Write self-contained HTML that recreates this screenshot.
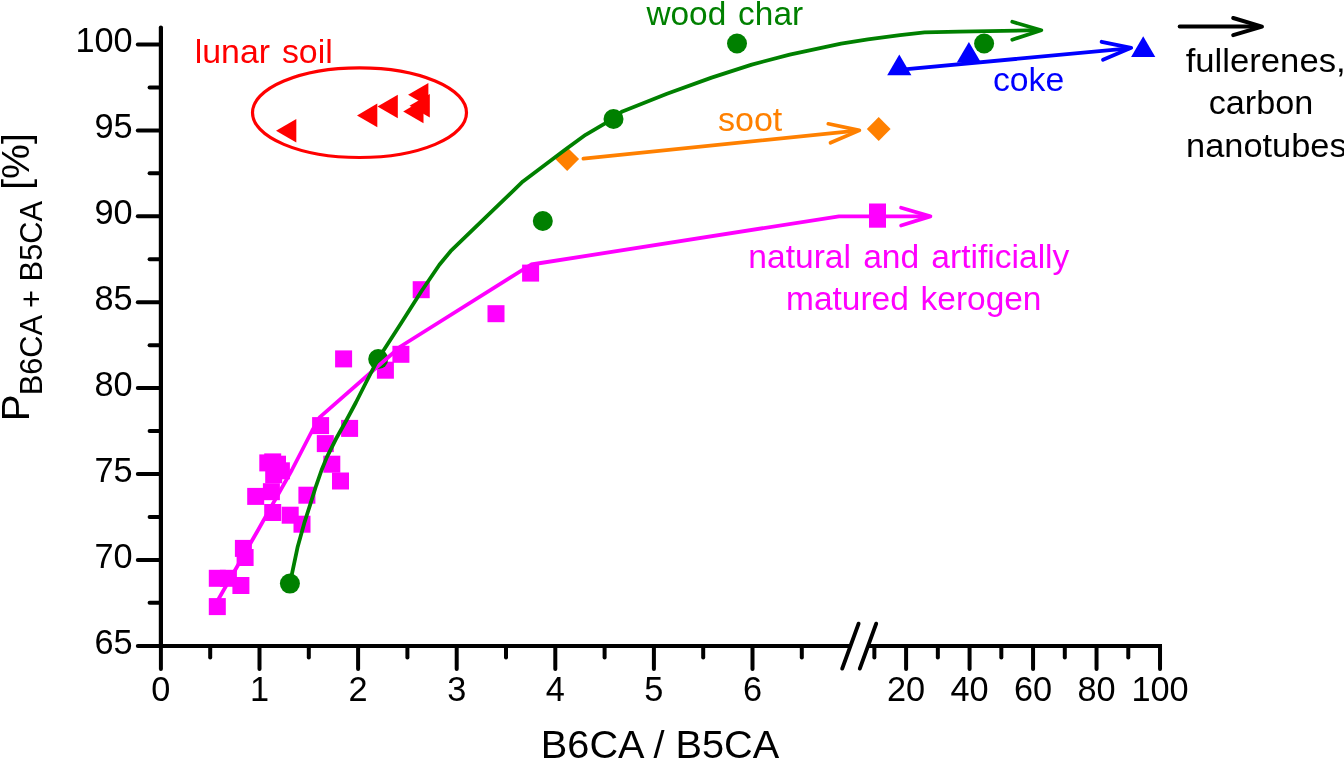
<!DOCTYPE html>
<html lang="en"><head><meta charset="utf-8"><title>B6CA / B5CA plot</title>
<style>html,body{margin:0;padding:0;background:#fff;overflow:hidden}svg{display:block}</style></head>
<body>
<svg width="1344" height="759" viewBox="0 0 1344 759" font-family="'Liberation Sans', sans-serif">
<rect width="1344" height="759" fill="#fff"/>
<g stroke="#000" stroke-width="4.2" fill="none" stroke-linecap="butt">
<line x1="160.9" y1="27.6" x2="160.9" y2="646.0" stroke-linecap="round"/>
<line x1="137.9" y1="646.0" x2="160.9" y2="646.0" stroke-linecap="round"/>
<line x1="160.9" y1="646.0" x2="849.5" y2="646.0"/>
<line x1="869" y1="646.0" x2="1162" y2="646.0"/>
</g>
<g stroke="#000" stroke-width="4" fill="none" stroke-linecap="round">
<line x1="137.8" y1="44.50" x2="160.9" y2="44.50"/>
<line x1="137.8" y1="130.40" x2="160.9" y2="130.40"/>
<line x1="137.8" y1="216.30" x2="160.9" y2="216.30"/>
<line x1="137.8" y1="302.20" x2="160.9" y2="302.20"/>
<line x1="137.8" y1="388.10" x2="160.9" y2="388.10"/>
<line x1="137.8" y1="474.00" x2="160.9" y2="474.00"/>
<line x1="137.8" y1="559.90" x2="160.9" y2="559.90"/>
<line x1="149.6" y1="87.45" x2="160.9" y2="87.45"/>
<line x1="149.6" y1="173.35" x2="160.9" y2="173.35"/>
<line x1="149.6" y1="259.25" x2="160.9" y2="259.25"/>
<line x1="149.6" y1="345.15" x2="160.9" y2="345.15"/>
<line x1="149.6" y1="431.05" x2="160.9" y2="431.05"/>
<line x1="149.6" y1="516.95" x2="160.9" y2="516.95"/>
<line x1="149.6" y1="602.85" x2="160.9" y2="602.85"/>
<line x1="160.90" y1="646.0" x2="160.90" y2="669"/>
<line x1="259.50" y1="646.0" x2="259.50" y2="669"/>
<line x1="358.10" y1="646.0" x2="358.10" y2="669"/>
<line x1="456.70" y1="646.0" x2="456.70" y2="669"/>
<line x1="555.30" y1="646.0" x2="555.30" y2="669"/>
<line x1="653.90" y1="646.0" x2="653.90" y2="669"/>
<line x1="752.50" y1="646.0" x2="752.50" y2="669"/>
<line x1="210.20" y1="646.0" x2="210.20" y2="657.4"/>
<line x1="308.80" y1="646.0" x2="308.80" y2="657.4"/>
<line x1="407.40" y1="646.0" x2="407.40" y2="657.4"/>
<line x1="506.00" y1="646.0" x2="506.00" y2="657.4"/>
<line x1="604.60" y1="646.0" x2="604.60" y2="657.4"/>
<line x1="703.20" y1="646.0" x2="703.20" y2="657.4"/>
<line x1="801.80" y1="646.0" x2="801.80" y2="657.4"/>
<line x1="906.10" y1="646.0" x2="906.10" y2="669"/>
<line x1="969.58" y1="646.0" x2="969.58" y2="669"/>
<line x1="1033.06" y1="646.0" x2="1033.06" y2="669"/>
<line x1="1096.54" y1="646.0" x2="1096.54" y2="669"/>
<line x1="1160.02" y1="646.0" x2="1160.02" y2="669"/>
<line x1="874.36" y1="646.0" x2="874.36" y2="657.4"/>
<line x1="937.84" y1="646.0" x2="937.84" y2="657.4"/>
<line x1="1001.32" y1="646.0" x2="1001.32" y2="657.4"/>
<line x1="1064.80" y1="646.0" x2="1064.80" y2="657.4"/>
<line x1="1128.28" y1="646.0" x2="1128.28" y2="657.4"/>
</g>
<g stroke="#000" stroke-width="3.9" fill="none" stroke-linecap="round">
<line x1="842.2" y1="668.6" x2="858.6" y2="623.7"/>
<line x1="859.8" y1="668.6" x2="876.2" y2="623.7"/>
</g>
<g font-size="34.3" fill="#000">
<text transform="translate(132.7,51.70) scale(1.0,1)" text-anchor="end">100</text>
<text transform="translate(132.7,137.73) scale(1.0,1)" text-anchor="end">95</text>
<text transform="translate(132.7,223.76) scale(1.0,1)" text-anchor="end">90</text>
<text transform="translate(132.7,309.79) scale(1.0,1)" text-anchor="end">85</text>
<text transform="translate(132.7,395.81) scale(1.0,1)" text-anchor="end">80</text>
<text transform="translate(132.7,481.84) scale(1.0,1)" text-anchor="end">75</text>
<text transform="translate(132.7,567.87) scale(1.0,1)" text-anchor="end">70</text>
<text transform="translate(132.7,653.90) scale(1.0,1)" text-anchor="end">65</text>
<text transform="translate(160.90,700.6) scale(1.0,1)" text-anchor="middle">0</text>
<text transform="translate(259.50,700.6) scale(1.0,1)" text-anchor="middle">1</text>
<text transform="translate(358.10,700.6) scale(1.0,1)" text-anchor="middle">2</text>
<text transform="translate(456.70,700.6) scale(1.0,1)" text-anchor="middle">3</text>
<text transform="translate(555.30,700.6) scale(1.0,1)" text-anchor="middle">4</text>
<text transform="translate(653.90,700.6) scale(1.0,1)" text-anchor="middle">5</text>
<text transform="translate(752.50,700.6) scale(1.0,1)" text-anchor="middle">6</text>
<text transform="translate(906.10,700.6) scale(1.0,1)" text-anchor="middle">20</text>
<text transform="translate(969.58,700.6) scale(1.0,1)" text-anchor="middle">40</text>
<text transform="translate(1033.06,700.6) scale(1.0,1)" text-anchor="middle">60</text>
<text transform="translate(1096.54,700.6) scale(1.0,1)" text-anchor="middle">80</text>
<text transform="translate(1160.02,700.6) scale(1.0,1)" text-anchor="middle">100</text>
</g>
<text transform="translate(540.82,757.50) scale(1.0105,1)" font-size="39.3" fill="#000">B6CA / B5CA</text>
<g transform="translate(29,420) rotate(-90)" fill="#000">
<text transform="translate(-1.13,0.00) scale(1.0300,1)" font-size="39.2" fill="#000">P</text>
<text transform="translate(24.66,13.00) scale(1.0107,1)" font-size="30.5" fill="#000">B6CA + B5CA</text>
<text transform="translate(230.16,0.00) scale(1.0008,1)" font-size="39.2" fill="#000">[%]</text>
</g>
<g fill="#ff00ff">
<rect x="208.8" y="598.1" width="17" height="17"/>
<rect x="208.8" y="569.8" width="17" height="17"/>
<rect x="219.9" y="569.8" width="17" height="17"/>
<rect x="232.4" y="577.0" width="17" height="17"/>
<rect x="234.9" y="539.9" width="17" height="17"/>
<rect x="236.6" y="549.0" width="17" height="17"/>
<rect x="247.2" y="487.9" width="17" height="17"/>
<rect x="264.2" y="504.0" width="17" height="17"/>
<rect x="281.7" y="506.7" width="17" height="17"/>
<rect x="293.5" y="515.7" width="17" height="17"/>
<rect x="298.4" y="486.7" width="17" height="17"/>
<rect x="259.3" y="454.4" width="17" height="17"/>
<rect x="264.2" y="453.4" width="17" height="17"/>
<rect x="269.0" y="455.7" width="17" height="17"/>
<rect x="272.9" y="462.3" width="17" height="17"/>
<rect x="265.2" y="466.3" width="17" height="17"/>
<rect x="262.9" y="483.2" width="17" height="17"/>
<rect x="323.3" y="455.7" width="17" height="17"/>
<rect x="332.0" y="472.5" width="17" height="17"/>
<rect x="316.8" y="435.1" width="17" height="17"/>
<rect x="312.1" y="417.1" width="17" height="17"/>
<rect x="341.1" y="419.9" width="17" height="17"/>
<rect x="335.1" y="350.4" width="17" height="17"/>
<rect x="376.9" y="361.7" width="17" height="17"/>
<rect x="392.4" y="345.8" width="17" height="17"/>
<rect x="412.7" y="281.2" width="17" height="17"/>
<rect x="487.5" y="305.2" width="17" height="17"/>
<rect x="522.1" y="264.6" width="17" height="17"/>
<rect x="869.0" y="203.5" width="17" height="17"/>
<rect x="869.0" y="210.7" width="17" height="17"/>
</g>
<g fill="#ff0000">
<polygon points="276,130.8 296.3,119.00000000000001 296.3,142.60000000000002"/>
<polygon points="357,115.4 377.3,103.60000000000001 377.3,127.2"/>
<polygon points="377.5,106.5 397.8,94.7 397.8,118.3"/>
<polygon points="403.2,111.4 423.5,99.60000000000001 423.5,123.2"/>
<polygon points="408.1,94.7 428.40000000000003,82.9 428.40000000000003,106.5"/>
<polygon points="409.5,105.8 429.8,94.0 429.8,117.6"/>
</g>
<g fill="#0000ff">
<polygon points="899.3,54.6 911.4,75.3 887.1999999999999,75.3"/>
<polygon points="968.9,41.9 981.0,62.599999999999994 956.8,62.599999999999994"/>
<polygon points="1143.2,36.2 1155.3,56.900000000000006 1131.1000000000001,56.900000000000006"/>
</g>
<g fill="#ff8000">
<polygon points="555.3000000000001,159.1 567.2,147.2 579.1,159.1 567.2,171.0"/>
<polygon points="866.8000000000001,129 878.7,117.1 890.6,129 878.7,140.9"/>
</g>
<g fill="#008000">
<circle cx="289.9" cy="583.6" r="10"/>
<circle cx="378.2" cy="359.1" r="10"/>
<circle cx="542.8" cy="221" r="10"/>
<circle cx="613.5" cy="119" r="10"/>
<circle cx="737" cy="43.5" r="10"/>
<circle cx="984.1" cy="43.5" r="10"/>
</g>
<g stroke="#ff00ff" stroke-width="3.8" fill="none" stroke-linejoin="round" stroke-linecap="round">
<polyline points="214.5,606 219,598.2 258.1,530 291.9,470 312,431 319.6,417.4 400.5,346.5 531.2,264.5 839,216.3 926,216.4"/>
<polyline points="901.1,207.8 930.4,216.4 901.1,225.5"/>
</g>
<g stroke="#ff8000" stroke-width="3.7" fill="none" stroke-linejoin="round" stroke-linecap="round">
<line x1="583.4" y1="158.7" x2="857" y2="130.7"/>
<polyline points="828.3,123.8 859.4,130.4 830.5,142.8"/>
</g>
<g stroke="#0000ff" stroke-width="3.8" fill="none" stroke-linejoin="round" stroke-linecap="round">
<line x1="899" y1="69.8" x2="1129" y2="48.4"/>
<polyline points="1101.6,41.8 1131.2,47.8 1103,59.7"/>
</g>
<g stroke="#008000" stroke-width="3.8" fill="none" stroke-linejoin="round" stroke-linecap="round">
<polyline points="289.9,583.6 297.7,546.7 304.1,523.7 309.7,506.1 316.1,485.8 321.6,470 326.9,457.1 335.8,439.3 346.4,420.3 355.9,402.5 365.5,383.5 378.2,358.8 401.4,322.8 421.4,291.2 439.4,264.8 450.6,251.2 522.9,181.4 565.4,149.4 585.6,134.8 604.7,123.6 613.5,117.3 622.4,111.4 667,93.7 711.6,77.6 751.8,64.6 789.7,54.6 841.1,43.6 867.9,39.4 900,35.1 924.6,32.4 959,31.6 1039,30.2"/>
<polyline points="1012.3,21.8 1041.3,30.2 1012.3,39.7"/>
</g>
<ellipse cx="359.5" cy="112.7" rx="107" ry="44.8" fill="none" stroke="#ff0000" stroke-width="3.2"/>
<g stroke="#000" stroke-width="4" fill="none" stroke-linejoin="round" stroke-linecap="round">
<line x1="1179.7" y1="26.6" x2="1259" y2="26.6"/>
<polyline points="1233.2,18 1262,26.6 1233.2,35.2"/>
</g>
<text transform="translate(194.71,63.30) scale(1.0139,1)" font-size="33.4" fill="#ff0000" word-spacing="2.5">lunar soil</text>
<text transform="translate(646.40,24.70) scale(1.0009,1)" font-size="33.4" fill="#008000" word-spacing="2.5">wood char</text>
<text transform="translate(717.96,131.20) scale(1.0201,1)" font-size="33.4" fill="#ff8000">soot</text>
<text transform="translate(992.96,90.80) scale(1.0113,1)" font-size="33.4" fill="#0000ff">coke</text>
<text transform="translate(748.33,268.00) scale(1.0055,1)" font-size="33.4" fill="#ff00ff" word-spacing="2.8">natural and artificially</text>
<text transform="translate(786.04,310.30) scale(1.0021,1)" font-size="33.4" fill="#ff00ff" word-spacing="2.5">matured kerogen</text>
<text transform="translate(1185.68,72.00) scale(1.0259,1)" font-size="33.8" fill="#000">fullerenes,</text>
<text transform="translate(1208.75,114.40) scale(1.0119,1)" font-size="33.8" fill="#000">carbon</text>
<text transform="translate(1186.08,157.00) scale(1.0170,1)" font-size="33.8" fill="#000">nanotubes</text>
</svg>
</body></html>
